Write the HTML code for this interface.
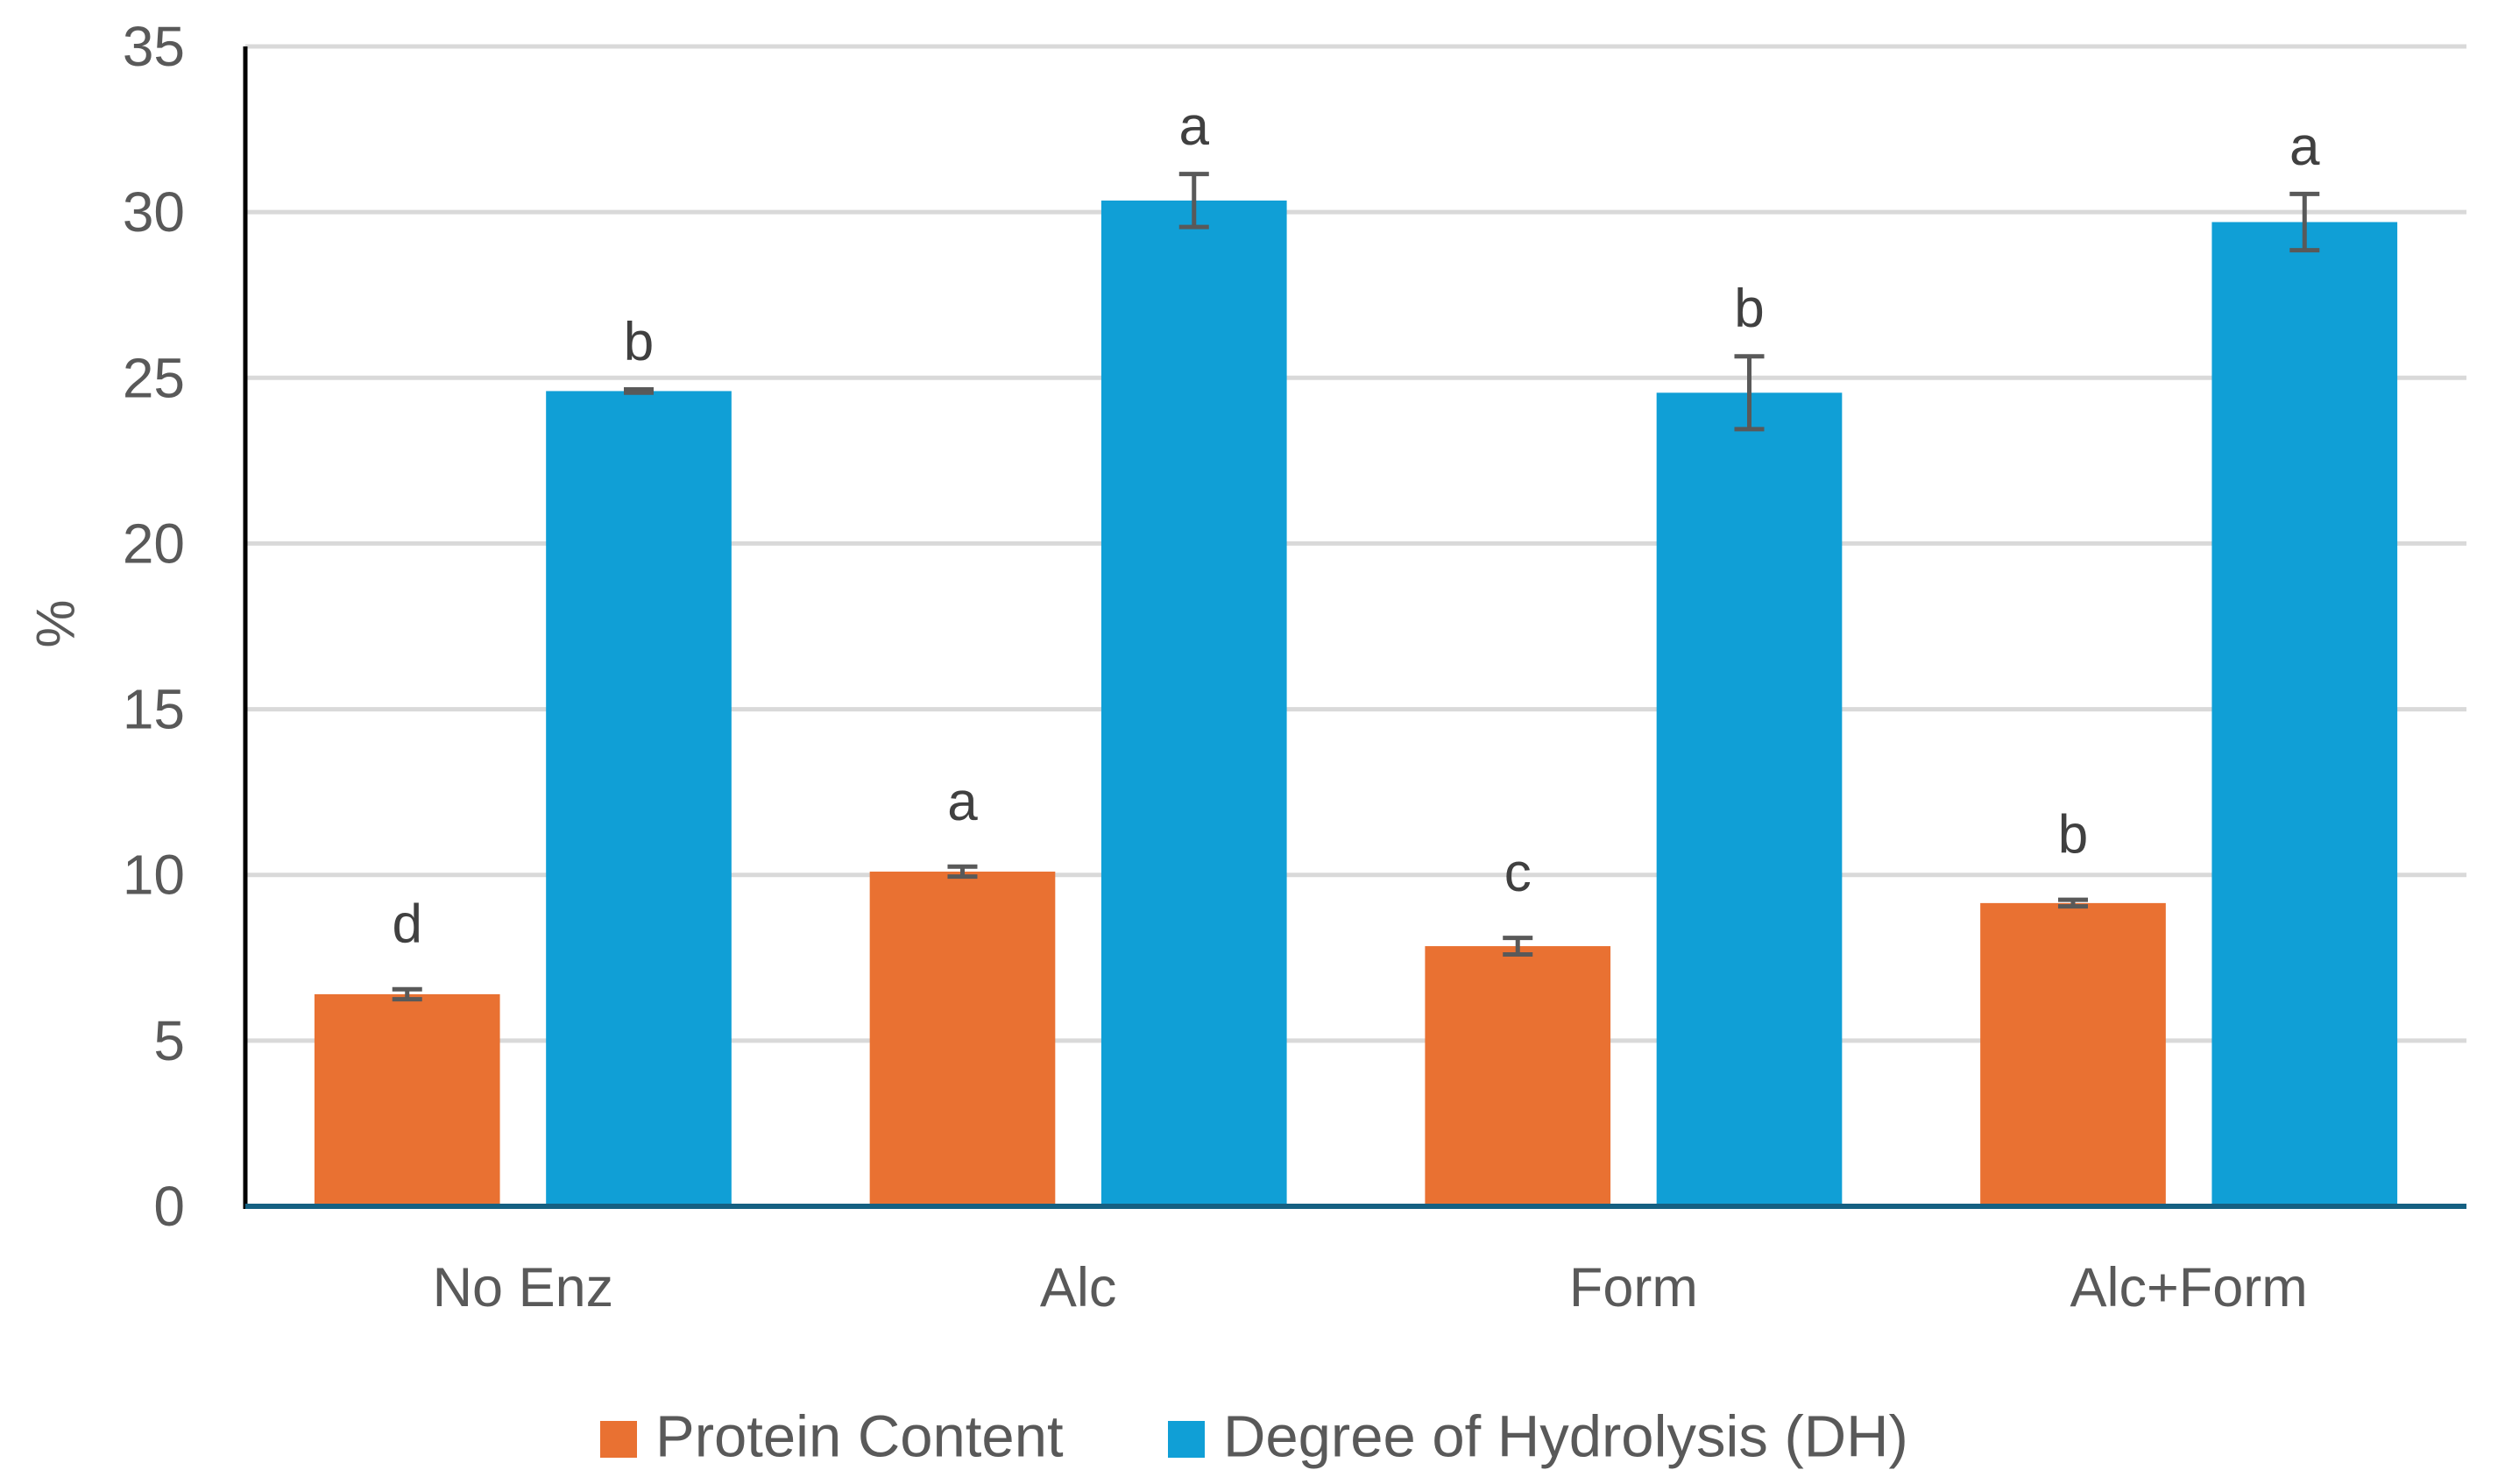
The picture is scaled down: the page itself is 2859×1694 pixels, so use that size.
<!DOCTYPE html>
<html><head><meta charset="utf-8"><style>
html,body{margin:0;padding:0;background:#fff;}
svg{display:block;font-family:"Liberation Sans",sans-serif;}
</style></head><body>
<svg id="chart" width="2859" height="1694" viewBox="0 0 2859 1694">
<g id="grid"></g>
<g id="bars"></g>
<g id="axes"></g>
<text x="64" y="712" transform="rotate(-90 64 712)" text-anchor="middle" dominant-baseline="central" font-size="62" fill="#595959">%</text>
<g>
<g>
<rect x="685" y="1622" width="42" height="42" fill="#E97132"/>
<text x="748" y="1640" dominant-baseline="central" font-size="67" fill="#595959">Protein Content</text></g>
<g>
<rect x="1333" y="1622" width="42" height="42" fill="#109FD6"/>
<text x="1396" y="1640" dominant-baseline="central" font-size="67" fill="#595959">Degree of Hydrolysis (DH)</text></g>
</g>
</svg>
<script>
const categories = ["No Enz","Alc","Form","Alc+Form"];
const proteinValues = [6.4, 10.1, 7.85, 9.15];
const proteinErrors = [0.15, 0.15, 0.25, 0.1];
const proteinLetters = ["d","a","c","b"];
const dhValues = [24.6, 30.35, 24.55, 29.7];
const dhErrors = [0.05, 0.8, 1.1, 0.85];
const dhLetters = ["b","a","b","a"];
const yTicks = [0,5,10,15,20,25,30,35];

const NS="http://www.w3.org/2000/svg";
const X0=280, X1=2815, Y0=1377, Y35=53, YMAX=35;
const y = v => Y0 - (Y0-Y35)*v/YMAX;
const band = (X1-X0)/categories.length;
const xc = i => X0 + band*(i+0.5);
const bw = band*0.334, gap = band*0.083;
function mk(tag, attrs, parent){const e=document.createElementNS(NS,tag);for(const k in attrs)e.setAttribute(k,attrs[k]);parent.appendChild(e);return e;}
const grid=document.getElementById('grid'), bars=document.getElementById('bars'), axes=document.getElementById('axes');

yTicks.forEach(t=>{
  if(t>0){const l=mk('line',{x1:X0,x2:X1,y1:y(t),y2:y(t),stroke:'#d9d9d9','stroke-width':5},grid);
  
  }
  const tx=mk('text',{x:211,y:y(t),'text-anchor':'end','dominant-baseline':'central','font-size':64,fill:'#595959'},axes);
  tx.textContent=t;
  
  
});

function drawBar(i, v, err, letter, cx, color, key, off){
  const r=mk('rect',{x:cx-bw/2,y:y(v),width:bw,height:Y0-y(v),fill:color},bars);
  
  
  const g=mk('g',{stroke:'#595959','stroke-width':5},bars);
  
  
  mk('line',{x1:cx,x2:cx,y1:y(v+err),y2:y(v-err)},g);
  mk('line',{x1:cx-17,x2:cx+17,y1:y(v+err),y2:y(v+err)},g);
  mk('line',{x1:cx-17,x2:cx+17,y1:y(v-err),y2:y(v-err)},g);
  const t=mk('text',{x:cx,y:y(v+err)-off,'text-anchor':'middle','dominant-baseline':'central','font-size':62,fill:'#404040'},bars);
  t.textContent=letter;
  
  
}
categories.forEach((c,i)=>{
  const cx=xc(i);
  drawBar(i, proteinValues[i], proteinErrors[i], proteinLetters[i], cx-gap/2-bw/2, '#E97132','protein', 74);
  drawBar(i, dhValues[i], dhErrors[i], dhLetters[i], cx+gap/2+bw/2, '#109FD6','dh', 54);
  const t=mk('text',{x:cx,y:1470,'text-anchor':'middle','dominant-baseline':'central','font-size':63,fill:'#595959'},axes);
  t.textContent=c;
  
  
});
const ya=mk('line',{x1:X0,x2:X0,y1:Y35,y2:Y0+3,stroke:'#000','stroke-width':5},axes);


const xa=mk('line',{x1:X0,x2:X1,y1:Y0,y2:Y0,stroke:'#156082','stroke-width':6},axes);


</script>
</body></html>
